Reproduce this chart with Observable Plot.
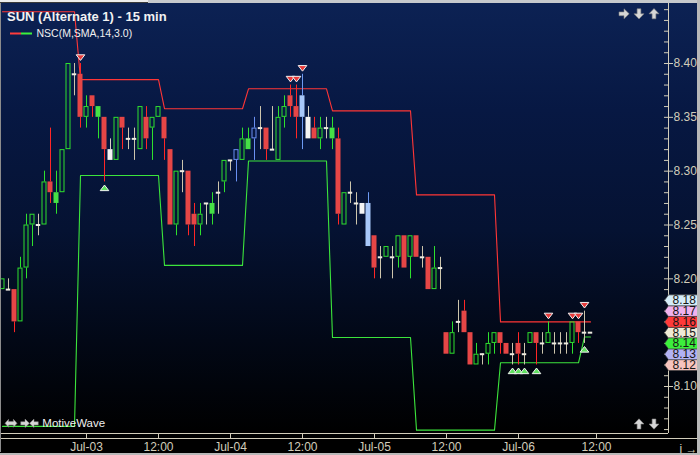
<!DOCTYPE html>
<html>
<head>
<meta charset="utf-8">
<script src="https://cdn.jsdelivr.net/npm/d3@7"></script>
<script src="https://cdn.jsdelivr.net/npm/@observablehq/plot@0.6"></script>
<style>
  html, body { margin: 0; padding: 0; background: #000; }
  #chart { width: 700px; height: 455px; overflow: hidden; }
  #chart svg { display: block; }
</style>
</head>
<body>
<div id="chart"></div>
<script>
// SUN, 15-minute bars (one entry per bar, oldest first)
const opens = [
  8.19, 8.19, 8.19, 8.16, 8.21, 8.25, 8.25, 8.25, 8.29, 8.28,
  8.28, 8.32, 8.39, 8.39, 8.35, 8.37, 8.36, 8.35, 8.32, 8.31,
  8.35, 8.33, 8.33, 8.32, 8.35, 8.34, 8.35, 8.35, 8.32, 8.25,
  8.30, 8.30, 8.26, 8.25, 8.27, 8.27, 8.28, 8.29, 8.31, 8.31,
  8.31, 8.33, 8.33, 8.34, 8.34, 8.32, 8.31, 8.35, 8.37, 8.36,
  8.37, 8.35, 8.34, 8.33, 8.34, 8.34, 8.33, 8.25, 8.28, 8.27,
  8.27, 8.27, 8.24, 8.22, 8.22, 8.22, 8.22, 8.24, 8.22, 8.24,
  8.22, 8.22, 8.19, 8.21, 8.15, 8.13, 8.16, 8.17, 8.15, 8.12,
  8.13, 8.13, 8.14, 8.15, 8.14, 8.13, 8.14, 8.13, 8.14, 8.15,
  8.14, 8.14, 8.14, 8.14, 8.14, 8.14, 8.16, 8.15, 8.15
];
const highs = [
  8.20, 8.20, 8.19, 8.22, 8.26, 8.26, 8.26, 8.30, 8.34, 8.30,
  8.32, 8.40, 8.40, 8.40, 8.37, 8.37, 8.36, 8.35, 8.33, 8.35,
  8.35, 8.34, 8.34, 8.36, 8.36, 8.35, 8.36, 8.35, 8.32, 8.30,
  8.31, 8.30, 8.27, 8.27, 8.27, 8.28, 8.29, 8.31, 8.31, 8.32,
  8.34, 8.34, 8.35, 8.36, 8.34, 8.36, 8.36, 8.37, 8.38, 8.38,
  8.39, 8.36, 8.35, 8.35, 8.35, 8.35, 8.34, 8.28, 8.29, 8.28,
  8.27, 8.28, 8.24, 8.23, 8.23, 8.23, 8.24, 8.24, 8.24, 8.24,
  8.23, 8.22, 8.23, 8.22, 8.15, 8.16, 8.18, 8.18, 8.15, 8.14,
  8.13, 8.15, 8.15, 8.15, 8.14, 8.14, 8.15, 8.14, 8.15, 8.15,
  8.15, 8.16, 8.15, 8.15, 8.15, 8.16, 8.16, 8.17, 8.15
];
const lows = [
  8.19, 8.19, 8.15, 8.16, 8.20, 8.23, 8.24, 8.25, 8.27, 8.26,
  8.28, 8.32, 8.37, 8.34, 8.34, 8.35, 8.33, 8.29, 8.31, 8.31,
  8.32, 8.32, 8.31, 8.32, 8.32, 8.31, 8.35, 8.31, 8.25, 8.24,
  8.28, 8.24, 8.23, 8.24, 8.25, 8.25, 8.26, 8.28, 8.30, 8.29,
  8.31, 8.32, 8.31, 8.32, 8.31, 8.32, 8.31, 8.34, 8.35, 8.33,
  8.32, 8.33, 8.33, 8.32, 8.33, 8.32, 8.25, 8.25, 8.27, 8.25,
  8.26, 8.23, 8.20, 8.20, 8.22, 8.20, 8.21, 8.21, 8.20, 8.22,
  8.21, 8.19, 8.19, 8.19, 8.13, 8.13, 8.15, 8.15, 8.12, 8.12,
  8.12, 8.12, 8.13, 8.13, 8.13, 8.12, 8.12, 8.12, 8.14, 8.12,
  8.13, 8.14, 8.13, 8.13, 8.13, 8.13, 8.14, 8.14, 8.15
];
const closes = [
  8.20, 8.19, 8.16, 8.21, 8.25, 8.26, 8.25, 8.29, 8.28, 8.27,
  8.32, 8.40, 8.39, 8.35, 8.36, 8.36, 8.35, 8.32, 8.31, 8.35,
  8.34, 8.33, 8.33, 8.36, 8.33, 8.35, 8.36, 8.33, 8.25, 8.30,
  8.30, 8.25, 8.25, 8.26, 8.27, 8.26, 8.28, 8.31, 8.31, 8.32,
  8.33, 8.32, 8.34, 8.34, 8.32, 8.32, 8.35, 8.36, 8.36, 8.35,
  8.35, 8.33, 8.33, 8.34, 8.34, 8.33, 8.26, 8.28, 8.28, 8.27,
  8.26, 8.23, 8.21, 8.22, 8.23, 8.22, 8.24, 8.21, 8.24, 8.22,
  8.22, 8.19, 8.21, 8.21, 8.13, 8.15, 8.16, 8.15, 8.12, 8.13,
  8.13, 8.14, 8.15, 8.14, 8.13, 8.13, 8.13, 8.13, 8.15, 8.14,
  8.14, 8.15, 8.14, 8.14, 8.14, 8.16, 8.15, 8.15, 8.15
];

// Bars painted with an accent colour instead of the plain up/down colouring
const accentGreenBars = [9, 16, 35, 41, 55];
const accentWhiteBars = [18, 51, 60];
const accentLightBlueBars = [50, 61];
const accentBlueBars = [39, 42];

// Time axis: bar index of each tick and its label
const timeTickBars = [14, 26, 38, 50, 62, 74, 86, 99];
const timeTickLabels = ["Jul-03", "12:00", "Jul-04", "12:00", "Jul-05", "12:00", "Jul-06", "12:00"];

// NSC(M,SMA,14,3.0) bands: [first bar, last bar, level]
const upperBand = [
  [0, 12, 8.448], [13, 26, 8.385], [27, 40, 8.358], [41, 54, 8.3765],
  [55, 68, 8.356], [69, 82, 8.278], [83, 98, 8.16]
];
const lowerBand = [
  [0, 12, 8.063], [13, 26, 8.296], [27, 40, 8.2125], [41, 54, 8.3095],
  [55, 68, 8.1455], [69, 82, 8.0595], [83, 96, 8.122], [97, 98, 8.146]
];

// NSC signal bars
const sellSignalBars = [13, 48, 49, 50, 91, 95, 96, 97];
const buySignalBars = [17, 85, 86, 87, 89, 97];

// Price axis
const priceTicks = [8.10, 8.15, 8.20, 8.25, 8.30, 8.35, 8.40];
// Price markers on the axis, in drawing order
const markerPrices = [8.12, 8.13, 8.15, 8.17, 8.18, 8.16, 8.14];

// ---- styling ----
const markerFill = {
  "8.18": "#d4ecf8", "8.17": "#f0b2ee", "8.16": "#ff3a3a", "8.15": "#eeead6",
  "8.14": "#3cf03c", "8.13": "#b2b2f4", "8.12": "#f6c4be"
};
const UP = "#2ee02e", DOWN_BODY = "#e64646", DOWN_WICK = "#ff2626";
const DOJI_WICK = "#cdc5ac", DOJI_DASH = "#eeebe0";
const AXIS = "#d2cdba";

const accent = new Map();
accentGreenBars.forEach(i => accent.set(i, "green"));
accentWhiteBars.forEach(i => accent.set(i, "white"));
accentLightBlueBars.forEach(i => accent.set(i, "light"));
accentBlueBars.forEach(i => accent.set(i, "blue"));

const bars = opens.map((open, i) => {
  const close = closes[i];
  const kind = accent.get(i) ?? (close > open ? "up" : close < open ? "down" : "doji");
  return {i, open, high: highs[i], low: lows[i], close, kind,
          top: Math.max(open, close), bottom: Math.min(open, close)};
});
const look = {
  up:    {wick: UP, edge: UP},
  blue:  {wick: "#6a90f2", edge: "#6a90f2"},
  down:  {wick: DOWN_WICK, fill: DOWN_BODY},
  green: {wick: UP, fill: "#46e046"},
  white: {wick: "#d8d4c6", fill: "#f4f4f4"},
  light: {wick: "#6d9af2", fill: "#a8c8fa"},
  doji:  {wick: DOJI_WICK}
};
const filledBars = bars.filter(d => look[d.kind].fill);
const hollowBars = bars.filter(d => look[d.kind].edge);
const dojiBars = bars.filter(d => d.kind === "doji");
const sells = sellSignalBars.map(i => bars[i]);
const buys = buySignalBars.map(i => bars[i]);

const bandPoints = segs => segs.flatMap(([a, b, v]) => [{i: a, v}, {i: b, v}]);

const HALF = 2.5 / 6;      // half a candle body, in bar units
const xDomain = [-1 / 3, 111];
const yDomain = [8.056347, 8.458514];
const xEdge = xDomain[1];

const downTriangle = {draw(c) { c.moveTo(-4.3, -2.7); c.lineTo(4.3, -2.7); c.lineTo(0, 2.9); c.closePath(); }};
const upTriangle = {draw(c) { c.moveTo(-4.3, 2.7); c.lineTo(4.3, 2.7); c.lineTo(0, -2.9); c.closePath(); }};
const priceTag = {draw(c) { c.moveTo(-4, 0); c.lineTo(0, -5.5); c.lineTo(29.5, -5.5); c.lineTo(29.5, 5.5); c.lineTo(0, 5.5); c.closePath(); }};

const svg = Plot.plot({
  width: 700,
  height: 455,
  marginTop: 0,
  marginRight: 32,
  marginBottom: 22,
  marginLeft: 0,
  style: {
    background: "linear-gradient(to bottom, #0c2254 0px, #071843 110px, #051232 230px, #020816 340px, #000000 433px, #000000 455px)",
    fontFamily: "'Liberation Sans', Arial, sans-serif",
    fontSize: "12px",
    color: AXIS
  },
  x: {domain: xDomain},
  y: {domain: yDomain},
  marks: [
    // NSC bands
    Plot.line(bandPoints(upperBand), {x: "i", y: "v", stroke: "#ff3636", strokeWidth: 1.1}),
    Plot.line(bandPoints(lowerBand), {x: "i", y: "v", stroke: "#3ce43c", strokeWidth: 1.1}),

    // wicks above and below each body
    Plot.ruleX(bars, {x: "i", y1: "high", y2: "top", stroke: d => look[d.kind].wick}),
    Plot.ruleX(bars, {x: "i", y1: "bottom", y2: "low", stroke: d => look[d.kind].wick}),

    // candle bodies
    Plot.rect(filledBars, {x1: d => d.i - HALF, x2: d => d.i + HALF, y1: "bottom", y2: "top",
      fill: d => look[d.kind].fill}),
    Plot.rect(hollowBars, {x1: d => d.i - HALF, x2: d => d.i + HALF, y1: "bottom", y2: "top",
      fill: "none", stroke: d => look[d.kind].edge, strokeWidth: 1, inset: 0.5}),
    Plot.ruleY(dojiBars, {y: "close", x1: d => d.i - 0.37, x2: d => d.i + 0.37,
      stroke: DOJI_DASH, strokeWidth: 2}),

    // NSC signals
    Plot.dot(sells, {x: "i", y: "high", dy: -6, symbol: downTriangle,
      fill: "#e63a3a", stroke: "#f2f2f2", strokeWidth: 1}),
    Plot.dot(buys, {x: "i", y: "low", dy: 6, symbol: upTriangle,
      fill: "#5fe05f", stroke: "#f2f2f2", strokeWidth: 1}),

    // axis lines
    Plot.ruleX([xEdge], {stroke: AXIS}),
    Plot.ruleY([yDomain[0]], {stroke: AXIS}),
    Plot.ruleY(d3.range(806, 846).map(d => d / 100), {y: d => d, x1: xEdge - 4 / 6, x2: xEdge, stroke: AXIS}),
    Plot.axisY({anchor: "right", ticks: priceTicks, tickFormat: ".2f", tickSize: 4, tickPadding: 1}),
    Plot.axisX({anchor: "bottom", ticks: timeTickBars, tickSize: 5, tickPadding: 4,
      tickFormat: d => timeTickLabels[timeTickBars.indexOf(d)]}),

    // price markers on the axis
    Plot.dot(markerPrices, {x: () => xEdge, y: d => d, symbol: priceTag,
      fill: d => markerFill[d.toFixed(2)], stroke: "#3c3c3c", strokeWidth: 0.7}),
    Plot.text(markerPrices, {x: () => xEdge, y: d => d, text: d => d.toFixed(2), dx: 4,
      textAnchor: "start", fill: "#151515", fontSize: 12})
  ]
});

// window chrome, header and footer text
const g = d3.select(svg).append("g").attr("text-anchor", "start");
g.append("line").attr("x1", 0).attr("x2", 697).attr("y1", 438.5).attr("y2", 438.5).attr("stroke", AXIS);
g.append("rect").attr("x", 0).attr("y", 0).attr("width", 700).attr("height", 3).attr("fill", "#c6c9cc");
g.append("rect").attr("x", 0).attr("y", 0).attr("width", 148).attr("height", 2.5).attr("fill", "#ececec");
g.append("line").attr("x1", 0).attr("x2", 148).attr("y1", 2.5).attr("y2", 2.5).attr("stroke", "#3a3a3a");
g.append("line").attr("x1", 0.5).attr("x2", 0.5).attr("y1", 3).attr("y2", 452).attr("stroke", "#8c8c8c");
g.append("rect").attr("x", 697).attr("y", 0).attr("width", 3).attr("height", 455).attr("fill", "#b8b8b8");
g.append("rect").attr("x", 0).attr("y", 453).attr("width", 700).attr("height", 2).attr("fill", "#b8b8b8");

g.append("text").attr("x", 7).attr("y", 20.5).attr("font-size", 13).attr("font-weight", "bold")
  .attr("text-anchor", "start").attr("fill", "#f2f2f2").text("SUN (Alternate 1) - 15 min");
g.append("line").attr("x1", 10).attr("x2", 21).attr("y1", 33.5).attr("y2", 33.5).attr("stroke", "#ff3c3c").attr("stroke-width", 2);
g.append("line").attr("x1", 21).attr("x2", 32).attr("y1", 33.5).attr("y2", 33.5).attr("stroke", "#3cf03c").attr("stroke-width", 2);
g.append("text").attr("x", 36.5).attr("y", 37.3).attr("font-size", 10.5).attr("text-anchor", "start")
  .attr("fill", "#f0f0f0").text("NSC(M,SMA,14,3.0)");
g.append("text").attr("x", 42.3).attr("y", 427.3).attr("font-size", 11.5).attr("text-anchor", "start")
  .attr("fill", "#f0f0f0").text("MotiveWave");

const arrowShape = "M-5,-1.9H0V-5L5.2,0L0,5V1.9H-5Z";
const bothWays = "M-6,0L-2.4,-4V-1.7H2.4V-4L6,0L2.4,4V1.7H-2.4V4Z";
const icons = [
  [arrowShape, 624, 13.8, 0, 1], [arrowShape, 639, 13.8, 90, 1], [arrowShape, 654, 13.8, -90, 1],
  [arrowShape, 639, 424, -90, 1], [arrowShape, 654, 424, 90, 1],
  [bothWays, 11, 423.3, 0, 1], [arrowShape, 25, 423.3, 0, 0.85], [arrowShape, 34, 423.3, 180, 0.85]
];
icons.forEach(([d, x, y, a, s]) => {
  g.append("path").attr("d", d)
    .attr("transform", `translate(${x},${y}) rotate(${a}) scale(${s})`)
    .attr("fill", "#d6d6d6").attr("stroke", "#808080").attr("stroke-width", 0.6);
});

document.getElementById("chart").append(svg);
</script>
</body>
</html>
